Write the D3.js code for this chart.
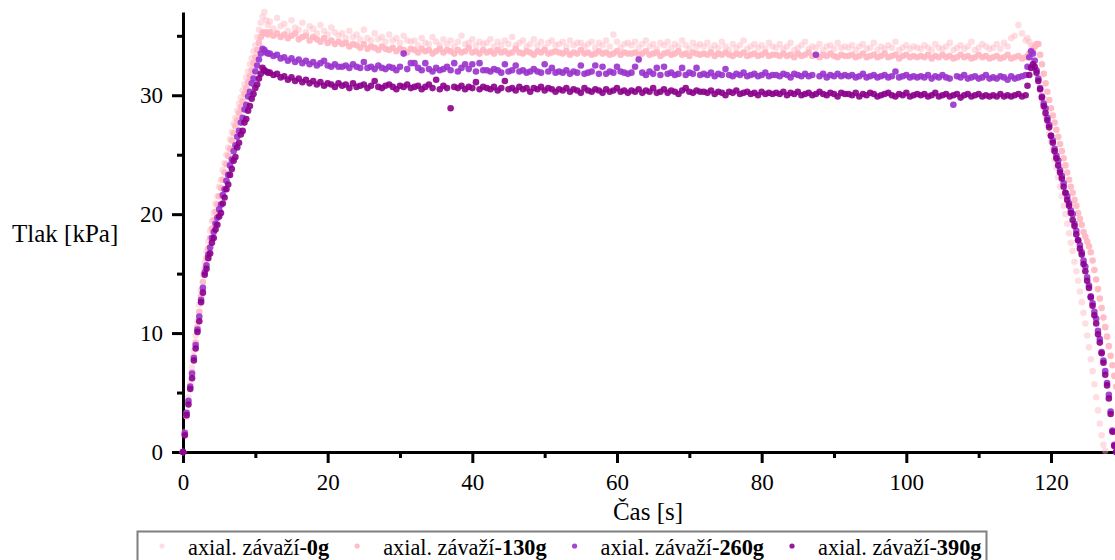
<!DOCTYPE html>
<html>
<head>
<meta charset="utf-8">
<script src="https://cdn.jsdelivr.net/npm/d3@7"></script>
<style>
  html, body { margin: 0; padding: 0; background: #fff; }
  svg { display: block; }
  svg text { font-family: "Liberation Serif", "Times New Roman", serif; }
</style>
</head>
<body>
<svg id="chart" width="1115" height="560"></svg>
<script>
// Sample times: fine steps on the loading / unloading ramps, coarser along the hold
const timeRise = d3.range(0, 12, 0.25);        // 0 .. 11.75 s
const timeHold = d3.range(12, 116.75, 0.5);    // 12 .. 116.5 s
const timeFall = d3.range(116.75, 129.1, 0.25);// 116.75 .. 129 s

const xTicks = [0, 20, 40, 60, 80, 100, 120];
const xMinorTicks = [10, 30, 50, 70, 90, 110];
const yTicks = [0, 10, 20, 30];
const yMinorTicks = [5, 15, 25, 35];

const seriesNames = ["0g", "130g", "260g", "390g"];
const seriesColors = ["#ffb6c1", "#ffb6c1", "#9932cc", "#8b008b"];
const seriesOpacity = [0.45, 0.9, 0.9, 0.9];

// pressure [kPa] — weight 0 g
const rise0g = [0.0,1.7,3.3,4.6,5.8,7.1,8.5,9.8,11.0,12.4,13.6,14.9,15.9,16.9,17.7,18.6,19.4,20.1,20.9,21.5,
  22.3,22.9,23.7,24.3,25.0,25.6,26.3,26.9,27.6,28.1,28.7,29.3,29.8,30.4,30.9,31.5,32.0,32.6,33.1,33.7,
  34.2,34.9,35.5,36.1,36.6,37.0,36.3,35.9];
const hold0g = [
  36.2,35.6,36.5,35.8,36.0,35.4,36.3,35.7,35.5,36.1,35.3,35.8,35.6,35.2,35.9,35.4,35.1,35.7,35.3,35.0,
  35.2,34.8,35.4,34.9,35.1,34.7,35.5,34.8,34.6,35.2,34.7,34.9,34.5,35.1,34.6,34.8,34.4,35.0,34.6,34.5,
  34.6,34.2,34.8,34.4,34.3,34.9,34.5,34.2,34.7,34.3,34.6,34.1,34.5,35.0,34.3,34.4,34.7,34.2,34.5,34.3,
  34.4,34.7,34.1,34.5,34.2,34.6,34.3,34.9,34.2,34.4,34.6,34.1,34.3,34.7,34.2,34.5,34.0,34.4,34.6,34.2,
  34.3,34.5,34.1,34.6,34.2,34.4,34.4,34.1,34.3,34.5,34.0,34.4,34.2,34.6,34.1,35.1,34.5,34.0,34.3,34.4,
  34.2,34.5,34.0,34.3,34.6,34.1,34.3,33.9,34.4,34.2,34.5,34.0,34.3,34.1,34.6,34.2,33.9,34.4,34.1,34.3,
  34.1,34.4,33.9,34.2,34.0,34.5,34.1,33.8,34.3,34.0,34.2,34.6,33.9,34.1,34.3,34.0,34.2,33.9,34.4,34.1,
  34.0,34.3,33.9,34.1,34.4,33.8,34.0,34.2,34.5,33.9,34.1,34.0,34.3,33.8,34.1,34.2,33.9,34.4,34.0,34.1,
  34.0,34.2,33.8,34.1,34.3,33.9,34.0,34.4,33.8,34.1,33.9,34.2,34.0,34.5,33.8,34.0,34.2,33.9,34.1,34.0,
  33.9,34.2,34.0,33.8,34.3,34.0,33.9,34.1,34.4,33.8,34.0,34.2,33.9,34.1,34.5,33.8,34.0,34.3,34.1,33.9,
  34.0,34.3,33.9,34.4,34.1,34.8,35.0,35.9,35.2,34.6];
const fall0g = [
  34.8,34.5,34.2,33.7,33.0,32.1,31.2,30.4,29.6,28.9,
  28.2,27.5,26.8,26.1,25.4,24.6,23.9,23.1,22.3,21.5,
  20.7,20.0,19.2,18.4,17.6,16.9,16.0,15.2,14.4,13.5,
  12.6,11.7,10.8,9.8,8.8,7.8,6.8,5.7,4.6,3.5,
  2.4,1.4,0.6,0.1,null,null,null,null,null,null];

// pressure [kPa] — weight 130 g
const rise130g = [0.0,1.5,3.0,4.2,5.4,6.7,8.0,9.2,10.5,11.8,13.1,14.3,15.4,16.3,17.1,18.0,18.8,19.5,20.2,20.8,
  21.5,22.2,22.9,23.5,24.2,24.9,25.5,26.2,26.8,27.4,27.9,28.5,29.0,29.5,30.1,30.6,31.1,31.6,32.1,32.7,
  33.2,33.8,34.4,34.9,35.3,35.2,35.3,35.1];
const hold130g = [
  35.3,35.0,35.2,34.9,35.1,34.8,35.0,35.2,34.7,34.9,35.0,34.6,34.9,34.7,34.5,34.8,34.4,34.6,34.3,34.5,
  34.3,34.4,34.1,34.3,34.2,34.0,34.3,33.9,34.1,34.0,33.8,34.1,33.9,33.8,34.0,33.7,33.9,33.8,33.6,33.9,
  33.8,33.6,33.9,33.7,33.8,33.5,33.7,33.9,33.6,33.8,33.7,33.5,33.8,33.6,33.7,34.0,33.6,33.7,33.5,33.8,
  33.6,33.7,33.5,33.8,33.6,33.7,33.5,33.6,33.9,33.6,33.5,33.7,33.6,33.4,33.7,33.6,33.8,33.5,33.6,33.7,
  33.6,33.5,33.7,33.4,33.6,33.5,33.8,33.5,33.6,33.4,33.5,33.7,33.5,33.6,33.4,33.5,33.7,33.4,33.6,33.5,
  33.5,33.6,33.4,33.5,33.7,33.4,33.5,33.6,33.3,33.5,33.6,33.4,33.5,33.7,33.4,33.5,33.3,33.6,33.5,33.4,
  33.5,33.4,33.6,33.3,33.5,33.4,33.6,33.4,33.3,33.5,33.4,33.6,33.3,33.4,33.5,33.3,33.4,33.6,33.3,33.4,
  33.4,33.3,33.5,33.3,33.4,33.2,33.5,33.3,33.4,33.6,33.3,33.4,33.2,33.4,33.3,33.5,33.3,33.2,33.4,33.3,
  33.3,33.4,33.2,33.3,33.5,33.2,33.3,33.4,33.2,33.3,33.5,33.2,33.3,33.4,33.1,33.3,33.4,33.2,33.3,33.2,
  33.3,33.2,33.4,33.1,33.3,33.2,33.4,33.2,33.3,33.1,33.2,33.4,33.2,33.3,33.1,33.2,33.4,33.2,33.3,33.1,
  33.2,33.3,33.1,33.2,33.4,33.1,33.2,33.3,33.1,33.2];
const fall130g = [
  33.3,33.5,33.7,33.9,34.1,34.3,34.3,33.4,32.6,31.8,
  31.0,30.3,29.6,28.9,28.3,27.7,27.1,26.5,25.9,25.3,
  24.7,24.1,23.5,22.9,22.3,21.8,21.2,20.7,20.1,19.6,
  19.1,18.5,18.1,17.7,17.3,16.8,16.1,15.3,14.5,13.7,
  12.9,12.1,11.3,10.5,9.7,8.9,8.1,7.3,6.4,5.5];

// pressure [kPa] — weight 260 g
const rise260g = [0.0,1.6,3.3,4.3,5.5,6.6,7.9,9.0,10.3,11.4,12.8,13.8,15.1,15.7,16.6,17.2,18.0,18.5,19.2,19.7,
  20.4,20.8,21.6,22.1,22.8,23.3,24.1,24.6,25.3,25.8,26.5,27.0,27.7,28.1,28.8,29.2,29.9,30.3,31.0,31.4,
  32.0,32.5,33.0,33.5,33.9,33.8,33.6,33.5];
const hold260g = [
  33.5,33.3,33.4,33.1,33.2,32.9,33.1,32.8,33.0,32.7,32.9,32.6,32.8,32.5,32.7,32.9,32.5,32.4,32.6,32.4,
  32.4,32.5,32.3,32.6,32.4,32.3,32.8,32.3,32.4,32.2,32.5,32.3,32.2,32.4,32.3,32.1,32.4,33.5,32.2,32.7,
  32.7,32.3,32.1,32.7,32.2,32.0,32.3,32.1,32.2,32.4,32.1,32.7,32.0,32.3,32.6,32.2,32.6,32.0,32.7,32.1,
  32.1,32.0,32.2,32.1,31.9,32.6,32.0,32.1,32.5,32.0,32.1,31.9,32.0,32.2,32.0,31.9,32.6,32.0,32.3,31.9,
  32.0,31.9,32.1,31.8,32.0,31.9,32.5,31.8,31.9,32.0,32.5,31.8,32.4,31.8,32.0,31.9,32.4,32.0,31.9,31.8,
  31.9,32.4,33.0,31.9,31.7,32.0,31.8,32.3,31.7,32.4,31.8,31.9,31.7,31.8,32.3,31.7,31.9,31.8,32.3,31.7,
  31.8,31.7,31.9,31.6,31.8,31.7,32.2,31.7,31.6,31.8,31.7,31.9,31.6,31.7,31.8,31.6,31.7,31.9,31.6,31.7,
  31.7,31.6,31.8,31.7,31.5,31.8,31.7,31.6,31.8,31.6,31.7,33.4,31.6,31.8,31.5,31.7,31.6,31.8,31.6,31.7,
  31.6,31.7,31.5,31.6,31.8,31.5,31.6,31.7,31.5,31.6,31.7,31.5,31.6,32.0,31.5,31.6,31.7,31.5,31.6,31.5,
  31.6,31.5,31.7,31.4,31.6,31.5,31.7,31.5,31.4,29.2,31.6,31.5,31.7,31.4,31.5,31.6,31.4,31.5,31.7,31.4,
  31.5,31.4,31.6,31.5,31.3,31.6,31.4,31.5,31.6,31.7];
const fall260g = [
  32.4,33.2,33.7,33.5,32.9,32.1,31.4,30.6,29.9,29.3,
  28.9,28.1,27.5,26.6,26.2,25.5,24.9,24.5,23.7,23.2,
  22.6,21.8,21.5,20.9,20.3,20.0,19.2,18.6,17.8,17.4,
  16.8,16.1,15.6,14.7,14.0,13.1,12.5,11.8,11.2,10.2,
  9.5,8.4,7.7,6.8,5.8,4.8,3.4,1.8,0.6,0.0];

// pressure [kPa] — weight 390 g
const rise390g = [0.0,1.4,3.1,4.0,5.3,6.2,7.7,8.7,10.1,11.0,12.6,13.4,14.9,15.4,16.3,16.7,17.6,18.0,18.7,19.1,
  19.8,20.1,20.9,21.4,22.1,22.5,23.3,23.8,24.5,24.8,25.6,26.0,26.7,27.0,27.7,28.0,28.7,29.1,29.7,30.1,
  30.6,30.9,31.4,31.8,32.3,32.1,32.0,31.9];
const hold390g = [
  31.9,31.7,31.8,31.5,31.6,31.3,31.5,31.2,31.4,31.1,31.3,31.0,31.2,30.9,31.1,30.8,31.0,30.9,30.7,31.0,
  30.8,30.9,30.6,31.0,30.7,30.8,30.9,30.6,30.8,31.2,30.7,30.6,30.8,30.9,30.7,30.5,30.8,30.7,30.9,30.6,
  30.7,30.8,30.5,30.7,30.9,30.6,31.3,30.5,30.8,30.6,28.9,30.7,30.6,30.8,30.5,30.7,30.6,31.1,30.5,30.7,
  30.6,30.5,30.7,30.4,30.6,31.2,30.5,30.6,30.4,30.7,30.5,30.6,30.3,30.6,30.5,30.7,30.4,30.6,30.5,30.3,
  30.5,30.4,30.6,30.3,30.5,30.4,30.2,30.6,30.4,30.3,30.5,30.4,30.2,30.5,30.3,30.4,30.6,30.3,30.4,30.2,
  30.4,30.3,30.5,30.2,30.4,30.3,30.6,30.2,30.3,30.5,30.2,30.4,30.3,30.1,30.4,30.6,30.3,30.2,30.4,30.3,
  30.3,30.2,30.4,30.1,30.3,30.2,30.0,30.3,30.2,30.4,30.1,30.2,30.3,30.1,30.2,30.0,30.3,30.1,30.2,30.1,
  30.2,30.1,30.3,30.0,30.2,30.1,30.3,30.0,30.1,30.2,30.0,30.1,30.3,30.1,30.0,30.2,30.1,29.9,30.2,30.1,
  30.1,30.0,30.2,29.9,30.1,30.0,30.2,30.1,29.9,30.0,30.1,30.2,30.0,29.9,30.1,30.0,30.2,29.9,30.0,30.1,
  30.0,30.1,29.9,30.0,30.2,29.9,30.0,30.1,29.9,30.0,30.1,29.8,30.0,30.1,29.9,30.0,30.1,29.9,30.0,29.9,
  30.0,29.9,30.1,29.9,30.0,29.9,30.0,30.1,29.9,30.0];
const fall390g = [
  30.8,31.7,32.3,32.6,32.4,31.9,31.2,30.5,29.8,29.1,
  28.5,27.9,27.3,26.6,26.0,25.3,24.7,24.1,23.5,23.0,
  22.3,21.8,21.2,20.7,20.1,19.5,19.0,18.3,17.8,17.1,
  16.6,15.8,15.2,14.4,13.8,13.0,12.3,11.5,10.8,9.9,
  9.2,8.3,7.5,6.5,5.6,4.5,3.2,1.7,0.5,0.0];

const times = timeRise.concat(timeHold, timeFall);
const seriesValues = [
  rise0g.concat(hold0g, fall0g),
  rise130g.concat(hold130g, fall130g),
  rise260g.concat(hold260g, fall260g),
  rise390g.concat(hold390g, fall390g)
];

const serif = '"Liberation Serif", "Times New Roman", serif';
const svg = d3.select("#chart");
const x = d3.scaleLinear().domain([0, 128.85]).range([183, 1115]);
const y = d3.scaleLinear().domain([0, 37]).range([452, 12]);

function styleAxis(g, labelled) {
  g.attr("font-family", serif).attr("font-size", 23);
  g.select(".domain").attr("stroke", "#000").attr("stroke-width", 3);
  g.selectAll(".tick line").attr("stroke", "#000").attr("stroke-width", 3);
  if (labelled) {
    g.selectAll(".tick text")
      .attr("fill", "#000")
      .attr("font-family", serif)
      .attr("font-size", 23);
  }
}

// x axis
svg.append("g").attr("transform", "translate(0,452)")
  .call(d3.axisBottom(x).tickValues(xMinorTicks).tickSize(6).tickSizeOuter(0).tickFormat(""))
  .call(g => { styleAxis(g, false); g.select(".domain").remove(); });
svg.append("g").attr("transform", "translate(0,452)")
  .call(d3.axisBottom(x).tickValues(xTicks).tickSize(11).tickSizeOuter(0).tickPadding(11).tickFormat(d3.format("d")))
  .call(g => styleAxis(g, true));

// y axis
svg.append("g").attr("transform", "translate(183,0)")
  .call(d3.axisLeft(y).tickValues(yMinorTicks).tickSize(6).tickSizeOuter(0).tickFormat(""))
  .call(g => { styleAxis(g, false); g.select(".domain").remove(); });
svg.append("g").attr("transform", "translate(183,0)")
  .call(d3.axisLeft(y).tickValues(yTicks).tickSize(11).tickSizeOuter(0).tickPadding(9).tickFormat(d3.format("d")))
  .call(g => styleAxis(g, true));

// axis titles
svg.append("text").attr("x", 12).attr("y", 242).attr("font-size", 25).attr("fill", "#000").text("Tlak [kPa]");
svg.append("text").attr("x", 648).attr("y", 520).attr("font-size", 25).attr("fill", "#000")
  .attr("text-anchor", "middle").text("Čas [s]");

// measured points
seriesValues.forEach((vals, i) => {
  const pts = vals.map((v, j) => ({ t: times[j], v })).filter(d => d.v !== null);
  svg.append("g")
    .selectAll("circle")
    .data(pts)
    .join("circle")
    .attr("cx", d => x(d.t))
    .attr("cy", d => y(d.v))
    .attr("r", 3.3)
    .attr("fill", seriesColors[i])
    .attr("fill-opacity", seriesOpacity[i]);
});

// legend
const legend = svg.append("g");
legend.append("rect")
  .attr("x", 137.5).attr("y", 531.5).attr("width", 849).attr("height", 40)
  .attr("fill", "#fff").attr("stroke", "#7f7f7f").attr("stroke-width", 2);
let lx = 162;
seriesNames.forEach((name, i) => {
  legend.append("circle").attr("cx", lx).attr("cy", 546).attr("r", 2.6)
    .attr("fill", seriesColors[i]).attr("fill-opacity", seriesOpacity[i]);
  const t = legend.append("text").attr("x", lx + 26).attr("y", 555).attr("font-size", 22.3).attr("fill", "#000");
  t.append("tspan").text("axial. závaží-");
  t.append("tspan").attr("font-weight", "bold").text(name);
  lx = lx + 26 + t.node().getComputedTextLength() + 28;
});
</script>
</body>
</html>
